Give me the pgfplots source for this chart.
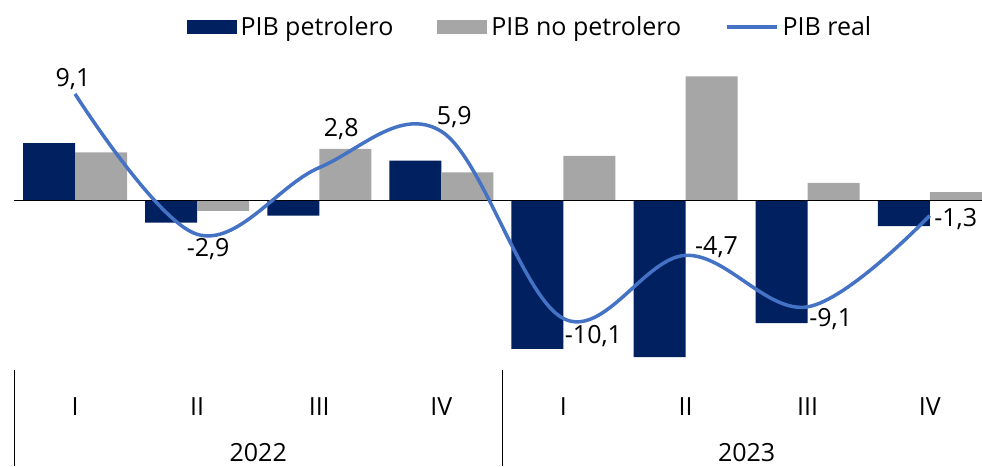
\documentclass[border=0pt]{standalone}
\usepackage{pgfplots}
\usepackage{pgfplotstable}
\pgfplotsset{compat=1.18}
\usepackage{fontspec}
\setmainfont{Open Sans}
\definecolor{petro}{HTML}{002060}
\definecolor{nopetro}{HTML}{A6A6A6}
\definecolor{pibreal}{HTML}{4472C4}

% contributions by quarter (0..3 = 2022 I..IV, 4..7 = 2023 I..IV)
\pgfplotstableread{
x petro nopetro
0 4.9 4.1
1 -1.9 -0.9
2 -1.3 4.4
3 3.4 2.4
4 -12.7 3.8
5 -13.4 10.6
6 -10.5 1.5
7 -2.2 0.7
}\pibdata

% PIB real, with label text and label offsets (pt)
\pgfplotstableread[col sep=semicolon]{
x;y;lab;lx;ly
0;9.1;9,1;-2;15
1;-2.9;-2,9;11;-15
2;2.8;2,8;22;39
3;5.9;5,9;13;14
4;-10.1;-10,1;30;-18
5;-4.7;-4,7;31;8
6;-9.1;-9,1;23;-12
7;-1.3;-1,3;26;-3
}\realdata

\newcommand{\chartfont}{\fontsize{25}{29}\selectfont}

\begin{document}
\begin{tikzpicture}[font=\chartfont]
\useasboundingbox (0,0) rectangle (982pt,466pt);
\begin{axis}[
  at={(14pt,96pt)}, anchor=south west,
  scale only axis,
  width=968pt, height=310pt,
  xmin=-0.5, xmax=7.428,
  ymin=-14.5, ymax=12,
  clip=false,
  axis line style={draw=none},
  ytick=\empty,
  xtick={0,...,7},
  xticklabels={I,II,III,IV,I,II,III,IV},
  xtick pos=bottom,
  major tick length=0pt,
  xticklabel style={anchor=center, yshift=-37pt, font=\chartfont},
  extra x ticks={-0.5,3.5},
  extra x tick labels={},
  extra x tick style={major tick length=96pt, tick align=outside,
    tick style={black, line width=1pt}},
  legend style={at={(0.534,1.106)}, anchor=center, draw=none, fill=none,
    legend columns=3, font=\chartfont,
    /tikz/every even column/.append style={column sep=40pt},
    nodes={inner sep=4pt}},
]
\addplot[ybar, bar width=52pt, bar shift=-26pt, fill=petro, draw=none,
  legend image code/.code={\fill[petro] (0pt,-7pt) rectangle (50pt,7pt);}]
  table[x=x, y=petro] {\pibdata};
\addlegendentry{PIB petrolero}
\addplot[ybar, bar width=52pt, bar shift=26pt, fill=nopetro, draw=none,
  legend image code/.code={\fill[nopetro] (0pt,-7pt) rectangle (50pt,7pt);}]
  table[x=x, y=nopetro] {\pibdata};
\addlegendentry{PIB no petrolero}
\addplot[black, line width=1.2pt, forget plot] coordinates {(-0.5,0) (7.428,0)};
\addplot[pibreal, line width=3.5pt, smooth, tension=0.6, mark=none,
  point meta=explicit symbolic,
  visualization depends on={\thisrow{lx} \as \lblx},
  visualization depends on={\thisrow{ly} \as \lbly},
  nodes near coords,
  nodes near coords style={anchor=center, xshift=\lblx pt, yshift=\lbly pt,
    text=black, font=\chartfont, inner sep=0pt},
  legend image code/.code={\draw[pibreal, line width=3.5pt] (0pt,0pt) -- (50pt,0pt);}]
  table[x=x, y=y, meta=lab] {\realdata};
\addlegendentry{PIB real}
\node[font=\chartfont] at (axis cs:1.5,-14.5) [yshift=-83pt] {2022};
\node[font=\chartfont] at (axis cs:5.5,-14.5) [yshift=-83pt] {2023};
\end{axis}
\end{tikzpicture}
\end{document}
